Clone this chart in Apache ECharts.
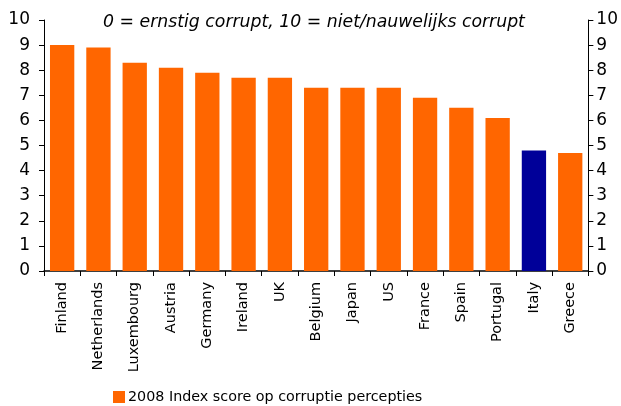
<!DOCTYPE html>
<html>
<head>
<meta charset="utf-8">
<script src="https://cdn.jsdelivr.net/npm/echarts@6/dist/echarts.min.js"></script>
<style>
  html, body { margin: 0; padding: 0; background: #fff; }
  #main { width: 621px; height: 406px; }
</style>
</head>
<body>
<div id="main"></div>
<script>
'use strict'

// data
const countries = ['Finland', 'Netherlands', 'Luxembourg', 'Austria', 'Germany', 'Ireland', 'UK',
  'Belgium', 'Japan', 'US', 'France', 'Spain', 'Portugal', 'Italy', 'Greece'];
const scores = [9.0, 8.9, 8.3, 8.1, 7.9, 7.7, 7.7, 7.3, 7.3, 7.3, 6.9, 6.5, 6.1, 4.8, 4.7];
const highlighted = 'Italy';
const seriesName = '2008 Index score op corruptie percepties';
const subtitle = '0 = ernstig corrupt, 10 = niet/nauwelijks corrupt';

const font = 'Verdana, "DejaVu Sans", sans-serif';
const orange = '#ff6600';
const navy = '#000099';

var myChart = echarts.init(document.getElementById('main'));

// colour the highlighted country differently
let barData = scores.map((v, i) => {
  if (countries[i] === highlighted) {
    return { value: v, itemStyle: { color: navy } };
  }
  return v;
});

function valueAxis(pos) {
  return {
    type: 'value',
    position: pos,
    min: 0,
    max: 10,
    interval: 1,
    axisLine: { show: true, lineStyle: { color: '#000', width: 1 } },
    axisTick: { show: true, length: 5, lineStyle: { color: '#000' } },
    axisLabel: {
      color: '#000', fontSize: 17, fontFamily: font,
      margin: pos === 'left' ? 14 : 8
    },
    splitLine: { show: false }
  };
}

var option = {
  animation: false,
  textStyle: { fontFamily: font },
  title: {
    text: subtitle,
    left: 309,
    top: 9,
    textAlign: 'center',
    textStyle: { fontSize: 17.3, fontStyle: 'italic', fontWeight: 'normal', color: '#000', fontFamily: font }
  },
  legend: {
    data: [seriesName],
    bottom: -3,
    left: 108,
    itemWidth: 12,
    itemHeight: 12,
    itemGap: 4,
    icon: 'rect',
    textStyle: { fontSize: 14.3, color: '#000', fontFamily: font, padding: [0, 0, 0, -2] }
  },
  grid: { left: 44, right: 32, top: 20, bottom: 135, containLabel: false },
  xAxis: {
    type: 'category',
    data: countries,
    axisLine: { show: true, lineStyle: { color: '#000', width: 1.5 } },
    axisTick: { show: true, alignWithLabel: false, length: 5, lineStyle: { color: '#000' } },
    axisLabel: { rotate: 90, color: '#000', fontSize: 14.5, fontFamily: font, margin: 11, interval: 0 }
  },
  yAxis: [valueAxis('left'), valueAxis('right')],
  series: [{
    name: seriesName,
    type: 'bar',
    data: barData,
    barCategoryGap: '33%',
    itemStyle: { color: orange }
  }]
};

myChart.setOption(option);
</script>
</body>
</html>
